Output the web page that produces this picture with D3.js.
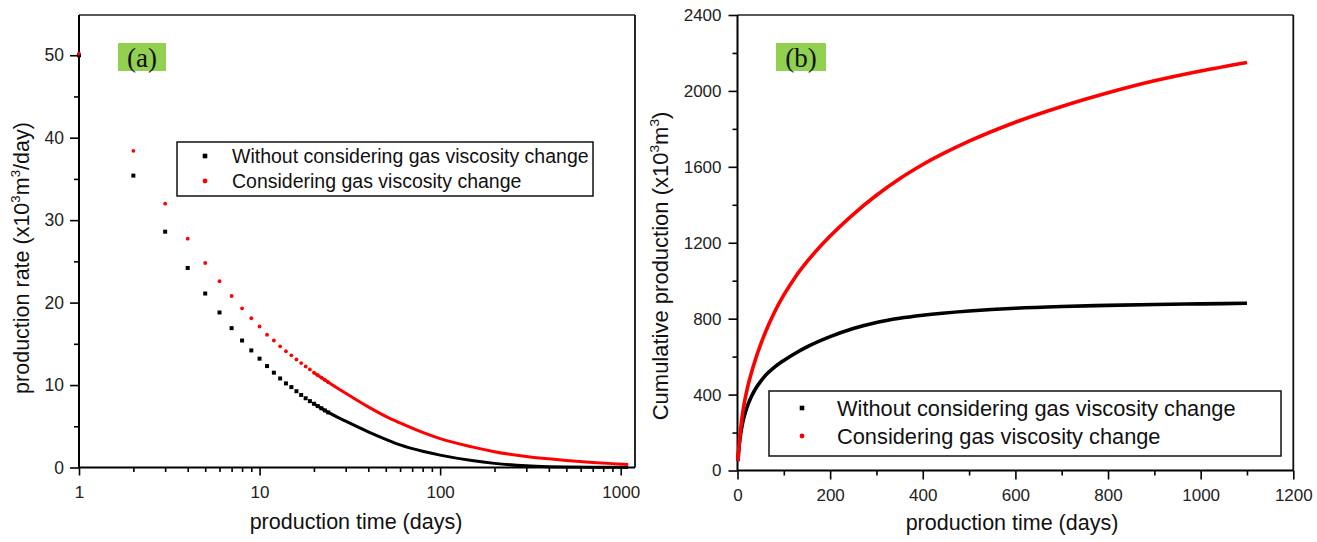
<!DOCTYPE html>
<html>
<head>
<meta charset="utf-8">
<script src="https://cdn.jsdelivr.net/npm/d3@7"></script>
<style>
  html, body { margin: 0; padding: 0; background: #fff; }
  svg { display: block; font-family: "Liberation Sans", Arial, sans-serif; }
</style>
</head>
<body>
<svg id="chart" width="1317" height="542"></svg>
<script>
// ---------- Panel (a): production rate (x10^3 m^3/day) vs time (days, log) ----------
const rateDaysEarly = [1,2,3,4,5,6,7,8,9,10,11,12,13,14,15,16,17,18,19,20,21,22,23,24];
const rateBlackEarly = [50,35.4,28.6,24.2,21.1,18.8,16.9,15.4,14.2,13.2,12.3,11.5,10.8,10.2,9.75,9.25,8.8,8.4,8.05,7.73,7.45,7.18,6.92,6.68];
const rateRedEarly   = [50.2,38.4,32.0,27.75,24.8,22.6,20.8,19.3,18.1,17.1,16.1,15.4,14.7,14.1,13.6,13.1,12.66,12.26,11.9,11.5,11.2,10.9,10.62,10.35];
const rateDaysLate  = [20,24,30,40,50,60,80,100,150,200,300,400,500,700,900,1100];
const rateBlackLate = [7.73,6.68,5.62,4.33,3.42,2.74,1.97,1.5,0.84,0.5,0.2,0.1,0.06,0.03,0.02,0.01];
const rateRedLate   = [11.5,10.35,9.0,7.35,6.2,5.4,4.25,3.5,2.5,1.92,1.33,1.05,0.86,0.62,0.47,0.36];
const rateYTicks = [0,10,20,30,40,50];
const rateYMinor = [5,15,25,35,45];
const rateXTicks = [1,10,100,1000];
const rateXMinor = [2,3,4,5,6,7,8,9,20,30,40,50,60,70,80,90,200,300,400,500,600,700,800,900];

// ---------- Panel (b): cumulative production (x10^3 m^3) vs time (days) ----------
const cumDays  = [1,2,3,5,7,10,15,20,30,40,50,60,80,100,125,150,200,250,300,350,400,500,600,700,800,900,1000,1100];
const cumBlack = [50,85,114,160,195,238,290,330,390,435,470,500,545,580,618,651,705,748,780,802,818,840,855,864,870,875,878,881];
const cumRed   = [50,88,120,175,222,285,360,420,515,595,665,727,835,925,1020,1100,1235,1350,1450,1537,1612,1735,1835,1918,1990,2053,2105,2150];
const cumYTicks = [0,400,800,1200,1600,2000,2400];
const cumYMinor = [200,600,1000,1400,1800,2200];
const cumXTicks = [0,200,400,600,800,1000,1200];
const cumXMinor = [100,300,500,700,900,1100];

const seriesNames = ["Without considering gas viscosity change", "Considering gas viscosity change"];
const seriesColors = ["#000000", "#ff0000"];

const svg = d3.select("#chart");

function styleAxis(g, fontSize) {
  g.select(".domain").remove();
  g.selectAll(".tick line").attr("stroke", "#000").attr("stroke-width", 1.6);
  g.selectAll(".tick text").attr("fill", "#222").style("font-size", fontSize + "px")
    .style("font-family", "'Liberation Sans', Arial, sans-serif");
}

function frame(x0, x1, y0, y1) {
  svg.append("line").attr("x1", x0).attr("x2", x1).attr("y1", y0).attr("y2", y0)
    .attr("stroke", "#222").attr("stroke-width", 1.6);
  svg.append("line").attr("x1", x1).attr("x2", x1).attr("y1", y0).attr("y2", y1)
    .attr("stroke", "#111").attr("stroke-width", 1.8);
  svg.append("line").attr("x1", x0).attr("x2", x0).attr("y1", y0).attr("y2", y1)
    .attr("stroke", "#000").attr("stroke-width", 2);
  svg.append("line").attr("x1", x0).attr("x2", x1).attr("y1", y1).attr("y2", y1)
    .attr("stroke", "#000").attr("stroke-width", 2);
}

function yTitle(x, y, main, tail, size) {
  const t = svg.append("text")
    .attr("transform", `translate(${x},${y}) rotate(-90)`)
    .attr("text-anchor", "middle")
    .style("font-size", size + "px").attr("fill", "#111");
  t.append("tspan").text(main + "(x10");
  t.append("tspan").text("3").style("font-size", (size * 0.62) + "px").attr("dy", -size * 0.42);
  t.append("tspan").text("m").attr("dy", size * 0.42);
  t.append("tspan").text("3").style("font-size", (size * 0.62) + "px").attr("dy", -size * 0.42);
  t.append("tspan").text(tail).attr("dy", size * 0.42);
}

function tagBox(x, y, w, h, label) {
  svg.append("rect").attr("x", x).attr("y", y).attr("width", w).attr("height", h).attr("fill", "#92d050");
  svg.append("text").attr("x", x + w / 2).attr("y", y + h - 4.5).attr("text-anchor", "middle")
    .style("font-family", "'Liberation Serif', 'Times New Roman', serif")
    .style("font-size", "27px").attr("fill", "#111").text(label);
}

function legend(x, y, w, h, rowY, markerX, textX, fontSize) {
  svg.append("rect").attr("x", x).attr("y", y).attr("width", w).attr("height", h)
    .attr("fill", "#fff").attr("stroke", "#111").attr("stroke-width", 1.5);
  seriesNames.forEach((name, i) => {
    if (i === 0) {
      svg.append("rect").attr("x", markerX - 2.3).attr("y", rowY[i] - 2.3).attr("width", 4.6).attr("height", 4.6).attr("fill", seriesColors[i]);
    } else {
      svg.append("circle").attr("cx", markerX).attr("cy", rowY[i]).attr("r", 2.4).attr("fill", seriesColors[i]);
    }
    svg.append("text").attr("x", textX).attr("y", rowY[i]).attr("dy", "0.36em")
      .style("font-size", fontSize + "px").attr("fill", "#111").text(name);
  });
}

// ================= Panel (a) =================
{
  const L = 79, R = 635, T = 14, B = 467.5;
  const x = d3.scaleLog().domain([1, 1200]).range([L, R]);
  const y = d3.scaleLinear().domain([0, 55]).range([B, T]);

  svg.append("g").attr("transform", `translate(0,${B})`)
    .call(d3.axisBottom(x).tickValues(rateXMinor).tickFormat("").tickSize(4.5).tickSizeOuter(0))
    .call(g => styleAxis(g, 17));
  svg.append("g").attr("transform", `translate(${L},0)`)
    .call(d3.axisLeft(y).tickValues(rateYMinor).tickFormat("").tickSize(5).tickSizeOuter(0))
    .call(g => styleAxis(g, 17));
  svg.append("g").attr("transform", `translate(0,${B})`)
    .call(d3.axisBottom(x).tickValues(rateXTicks).tickFormat(d3.format("d")).tickSize(8).tickPadding(10).tickSizeOuter(0))
    .call(g => styleAxis(g, 17));
  svg.append("g").attr("transform", `translate(${L},0)`)
    .call(d3.axisLeft(y).tickValues(rateYTicks).tickFormat(d3.format("d")).tickSize(9).tickPadding(6).tickSizeOuter(0))
    .call(g => styleAxis(g, 17.5));

  frame(L, R, T + 1, B);

  const line = d3.line().x(d => x(d[0])).y(d => y(d[1])).curve(d3.curveMonotoneX);
  svg.append("path").datum(rateDaysLate.map((d, i) => [d, rateBlackLate[i]]))
    .attr("d", line).attr("fill", "none").attr("stroke", "#000").attr("stroke-width", 3);
  svg.append("g").selectAll("rect").data(rateDaysEarly.map((d, i) => [d, rateBlackEarly[i]]))
    .join("rect").attr("x", d => x(d[0]) - 2).attr("y", d => y(d[1]) - 2)
    .attr("width", 4).attr("height", 4).attr("fill", "#000");
  svg.append("path").datum(rateDaysLate.map((d, i) => [d, rateRedLate[i]]))
    .attr("d", line).attr("fill", "none").attr("stroke", "#ff0000").attr("stroke-width", 3);
  svg.append("g").selectAll("circle").data(rateDaysEarly.map((d, i) => [d, rateRedEarly[i]]))
    .join("circle").attr("cx", d => x(d[0])).attr("cy", d => y(d[1])).attr("r", 1.9).attr("fill", "#ff0000");

  tagBox(118, 43, 48, 28, "(a)");
  legend(177, 142, 416, 54, [156, 181], 205, 232, 19.5);

  svg.append("text").attr("x", 356).attr("y", 529).attr("text-anchor", "middle")
    .style("font-size", "21.5px").attr("fill", "#111").text("production time (days)");
  yTitle(29, 258, "production rate ", "/day)", 21.5);
}

// ================= Panel (b) =================
{
  const L = 737.5, R = 1293.3, T = 15, B = 470.5;
  const x = d3.scaleLinear().domain([0, 1200]).range([L, R]);
  const y = d3.scaleLinear().domain([0, 2400]).range([B, T]);

  svg.append("g").attr("transform", `translate(0,${B})`)
    .call(d3.axisBottom(x).tickValues(cumXMinor).tickFormat("").tickSize(5).tickSizeOuter(0))
    .call(g => styleAxis(g, 17));
  svg.append("g").attr("transform", `translate(${L},0)`)
    .call(d3.axisLeft(y).tickValues(cumYMinor).tickFormat("").tickSize(5).tickSizeOuter(0))
    .call(g => styleAxis(g, 17));
  svg.append("g").attr("transform", `translate(0,${B})`)
    .call(d3.axisBottom(x).tickValues(cumXTicks).tickFormat(d3.format("d")).tickSize(9).tickPadding(9).tickSizeOuter(0))
    .call(g => styleAxis(g, 17));
  svg.append("g").attr("transform", `translate(${L},0)`)
    .call(d3.axisLeft(y).tickValues(cumYTicks).tickFormat(d3.format("d")).tickSize(9).tickPadding(7).tickSizeOuter(0))
    .call(g => styleAxis(g, 17));

  frame(L, R, T, B);

  const line = d3.line().x(d => x(d[0])).y(d => y(d[1])).curve(d3.curveMonotoneX);
  svg.append("path").datum(cumDays.map((d, i) => [d, cumBlack[i]]))
    .attr("d", line).attr("fill", "none").attr("stroke", "#000").attr("stroke-width", 3.6);
  svg.append("path").datum(cumDays.map((d, i) => [d, cumRed[i]]))
    .attr("d", line).attr("fill", "none").attr("stroke", "#ff0000").attr("stroke-width", 3.6);

  tagBox(776, 43, 50, 28, "(b)");
  legend(769, 391, 512, 65, [408, 436], 802, 837, 21.8);

  svg.append("text").attr("x", 1012).attr("y", 530).attr("text-anchor", "middle")
    .style("font-size", "21.5px").attr("fill", "#111").text("production time (days)");
  yTitle(668, 266, "Cumulative production ", ")", 22);
}
</script>
</body>
</html>
